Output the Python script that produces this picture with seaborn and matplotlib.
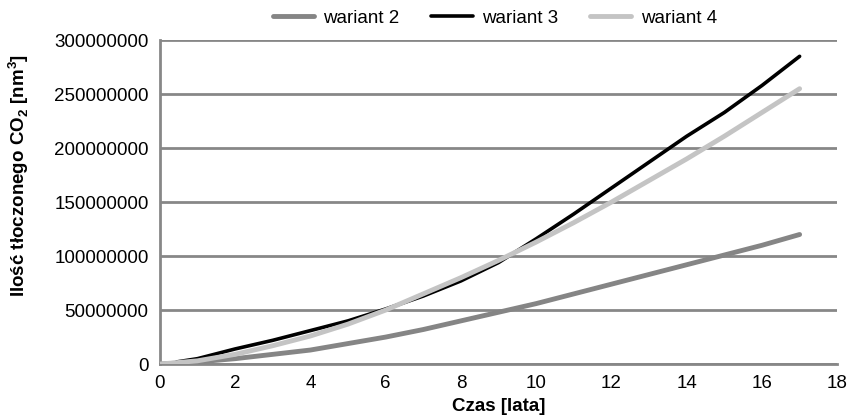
import matplotlib
matplotlib.use('Agg')
import matplotlib.pyplot as plt
import seaborn as sb
import numpy as np
import pandas as pd

# values (years, m3)
years = [0, 1, 2, 3, 4, 5, 6, 7, 8, 9, 10, 11, 12, 13, 14, 15, 16, 17]
wariant_2 = [0, 2e6, 5e6, 9e6, 13e6, 19e6, 25e6, 32e6, 40e6, 48e6, 56e6,
             65e6, 74e6, 83e6, 92e6, 101e6, 110e6, 120e6]
years_3 = [0.45, 1, 2, 3, 4, 5, 6, 7, 8, 9, 10, 11, 12, 13, 14, 15, 16, 17]
wariant_3 = [2e6, 5e6, 14e6, 22e6, 31e6, 40e6, 51e6, 63e6, 77e6, 94e6, 116e6,
             139e6, 163e6, 187e6, 211e6, 233e6, 258e6, 285e6]
wariant_4 = [0, 3e6, 9e6, 17e6, 26e6, 37e6, 50e6, 65e6, 80e6, 96e6, 113e6,
             131e6, 150e6, 170e6, 190e6, 211e6, 233e6, 255e6]

series = ['wariant 2', 'wariant 3', 'wariant 4']
colors = {'wariant 2': '#858585', 'wariant 3': '#000000', 'wariant 4': '#c4c4c4'}
widths = {'wariant 2': 3.5, 'wariant 3': 2.6, 'wariant 4': 3.5}
y_ticks = [0, 50000000, 100000000, 150000000, 200000000, 250000000, 300000000]
x_ticks = [0, 2, 4, 6, 8, 10, 12, 14, 16, 18]

df = pd.concat([
    pd.DataFrame({'t': years, 'v': wariant_2, 's': 'wariant 2'}),
    pd.DataFrame({'t': years_3, 'v': wariant_3, 's': 'wariant 3'}),
    pd.DataFrame({'t': years, 'v': wariant_4, 's': 'wariant 4'}),
])

sb.set_style('white')
plt.rcParams['font.family'] = ['Liberation Sans', 'DejaVu Sans']
plt.rcParams['text.color'] = 'black'
plt.rcParams['axes.labelcolor'] = 'black'
plt.rcParams['mathtext.fontset'] = 'custom'
plt.rcParams['mathtext.rm'] = 'Liberation Sans'
plt.rcParams['mathtext.bf'] = 'Liberation Sans:bold'

grid_col = '#878787'
f = plt.figure(figsize=(8.5, 4.18), dpi=100)
ax = f.add_axes([0.188, 0.129, 0.797, 0.775])

for s in series:
    sub = df[df['s'] == s]
    sb.lineplot(data=sub, x='t', y='v', ax=ax, color=colors[s],
                linewidth=widths[s], label=s, zorder=3)

ax.set_xlim(0, 18)
ax.set_ylim(0, 300000000)
ax.set_xticks(x_ticks)
ax.set_yticks(y_ticks)
ax.set_yticklabels([str(v) for v in y_ticks])
ax.yaxis.grid(True, color=grid_col, linewidth=2.0)
ax.xaxis.grid(False)
for side in ['top', 'right']:
    ax.spines[side].set_visible(False)
for side in ['left', 'bottom']:
    ax.spines[side].set_color(grid_col)
    ax.spines[side].set_linewidth(2.0)
ax.tick_params(axis='both', colors=grid_col, labelcolor='black',
               labelsize=13.5, length=6, width=1.6, direction='out')
ax.tick_params(axis='x', pad=2)
ax.tick_params(axis='y', pad=2)

ax.set_xlabel('Czas [lata]', fontsize=13.5, fontweight='bold', labelpad=1)
ax.xaxis.set_label_coords(0.5, -0.105)
ax.set_ylabel(r'Ilość tłoczonego CO$_\mathbf{2}$ [nm$^\mathbf{3}$]',
              fontsize=13.5, fontweight='bold')
ax.yaxis.set_label_coords(-0.19, 0.583)

leg = ax.legend(loc='center', bbox_to_anchor=(0.582, 0.957),
                bbox_transform=f.transFigure, ncol=3, frameon=False,
                fontsize=13.5, handlelength=2.2, columnspacing=1.7,
                handletextpad=0.5)

f.savefig('out.png', dpi=100)
